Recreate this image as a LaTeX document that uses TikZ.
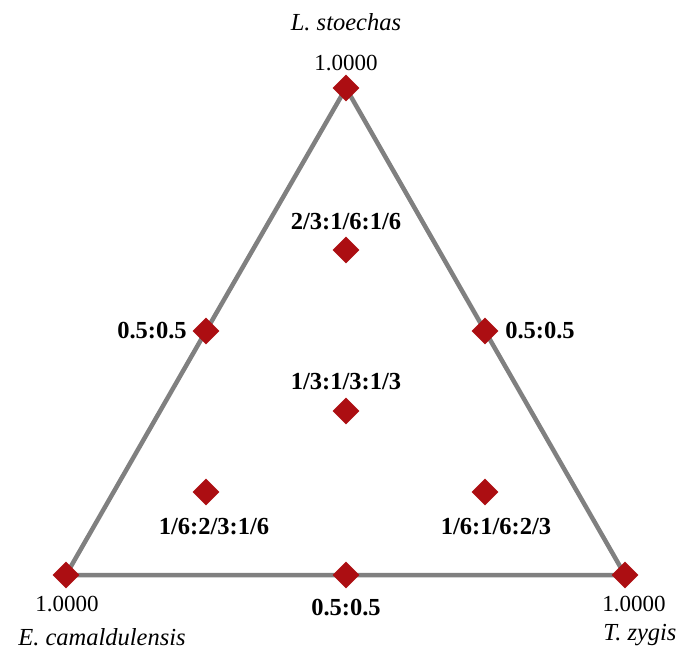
\documentclass[tikz,border=0pt]{standalone}
\usepackage{fontspec}
\setmainfont{Liberation Serif}
\usetikzlibrary{shapes.geometric,backgrounds}
\definecolor{dred}{RGB}{172,14,18}
\definecolor{edge}{RGB}{128,128,128}
\tikzset{
  pt/.style={diamond,fill=dred,draw=none,minimum width=27pt,minimum height=27pt,inner sep=0pt},
  ratio/.style={font=\fontsize{24.5}{26}\selectfont\bfseries,inner sep=0pt},
  val/.style={font=\fontsize{23}{25}\selectfont,inner sep=0pt},
  species/.style={font=\fontsize{24.5}{26}\selectfont\itshape,inner sep=0pt},
  side/.style={draw=edge,line width=4.5pt}
}
\begin{document}
\begin{tikzpicture}[x=1pt,y=-1pt]
\useasboundingbox (0,0) rectangle (681,650);
% diamonds
\node[pt] (T) at (346,88) {};
\node[pt] (L) at (66,575) {};
\node[pt] (R) at (625,575) {};
\node[pt] (ML) at (206,331) {};
\node[pt] (MR) at (485,331) {};
\node[pt] (MB) at (346,575) {};
\node[pt] (C1) at (346,250) {};
\node[pt] (C2) at (346,411) {};
\node[pt] (C3) at (206,492) {};
\node[pt] (C4) at (485,492) {};
% triangle
\begin{scope}[on background layer]
\draw[side] (T.center) -- (ML.center) -- (L.center) -- (MB.center) -- (R.center) -- (MR.center) -- cycle;
\end{scope}
% labels
\node[species] (sT) at (346,22) {L. stoechas};
\node[val] (vT) at (346,63) {1.0000};
\node[val] (vL) at (67,604) {1.0000};
\node[species] (sL) at (102,637) {E. camaldulensis};
\node[val] (vR) at (634,604) {1.0000};
\node[species] (sR) at (640,635) {T. zygis};
\node[ratio] (lML) at (152,331) {0.5:0.5};
\node[ratio] (lMR) at (540,331) {0.5:0.5};
\node[ratio] (lMB) at (346,608) {0.5:0.5};
\node[ratio] (lC1) at (346,222) {2/3:1/6:1/6};
\node[ratio] (lC2) at (346,382) {1/3:1/3:1/3};
\node[ratio] (lC3) at (214,527) {1/6:2/3:1/6};
\node[ratio] (lC4) at (496,527) {1/6:1/6:2/3};
\end{tikzpicture}
\end{document}
